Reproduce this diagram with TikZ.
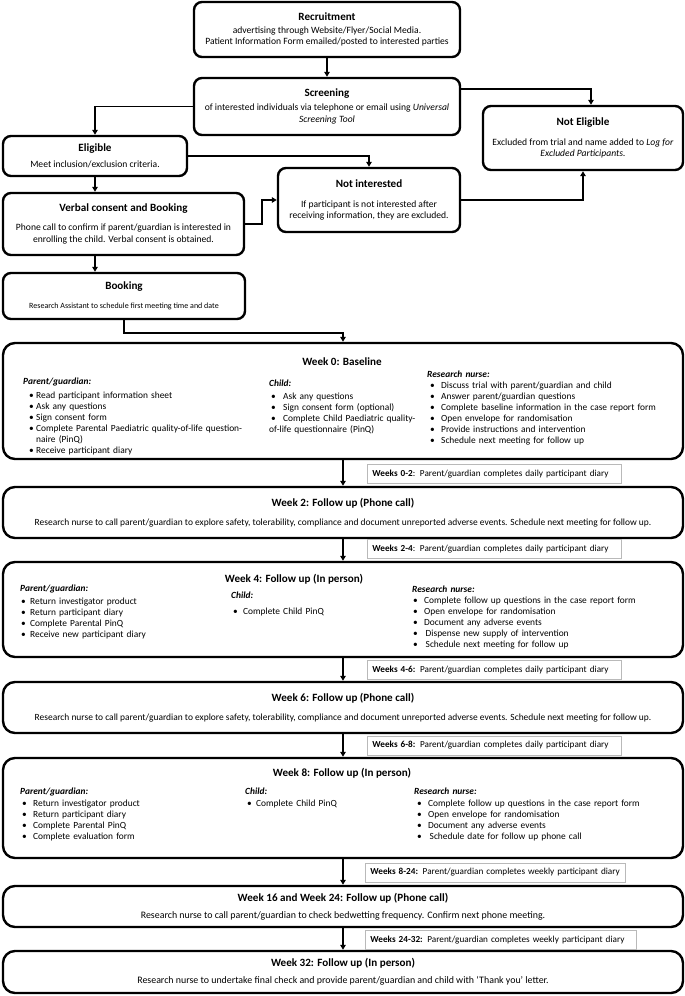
\documentclass[tikz,border=0pt]{standalone}
\usepackage{fontspec}
\setmainfont{Carlito}
\usetikzlibrary{arrows.meta}
\setlength{\parindent}{0pt}

\newcommand{\ttl}[1]{{\fontsize{11.1}{13}\selectfont\bfseries #1}}
\newlength{\bulx}
\newlength{\txtx}
\newcommand{\hd}[2][0pt]{\textbf{\textit{#2}}\par\vspace{#1}}
\newcommand{\itm}[1]{\par\hangindent=\txtx\hangafter=1\noindent\hspace*{\bulx}\makebox[\dimexpr\txtx-\bulx\relax][l]{\textbullet}#1}

\begin{document}
\begin{tikzpicture}[x=1pt,y=-1pt,
  box/.style={draw, line width=2.4pt, rounded corners=8pt, align=center, inner sep=0pt, font=\fontsize{9.6}{11.5}\selectfont},
  wbox/.style={box, rounded corners=12pt, minimum width=680pt},
  lbl/.style={draw=gray!55, line width=0.8pt, fill=white, inner xsep=5pt, inner ysep=0pt, minimum height=19pt, text width=#1, align=left, anchor=west, font=\fontsize{9.2}{11}\selectfont},
  col/.style n args={3}{anchor=north west, inner sep=0pt, text width=#1, align=left, font=\fontsize{9.4}{11}\selectfont, execute at begin node={\setlength{\bulx}{#2}\setlength{\txtx}{#3}}},
  arr/.style={line width=1.8pt, -{Triangle[length=5pt,width=5.5pt]}}]
\useasboundingbox (0,0) rectangle (685,996);

% enrolment
\node[box, minimum width=266pt, minimum height=55pt] (recruit) at (327,29.5) {\ttl{Recruitment}\\[1.5pt] advertising through Website/Flyer/Social Media.\\ Patient Information Form emailed/posted to interested parties};
\node[box, minimum width=266pt, minimum height=57pt] (screen) at (327,106.5) {\ttl{Screening}\\[2.5pt] of interested individuals via telephone or email using \textit{Universal}\\ \textit{Screening Tool}};
\node[box, minimum width=200pt, minimum height=64pt] (notelig) at (583,138) {\ttl{Not Eligible}\\[8.5pt] Excluded from trial and name added to \textit{Log for}\\ \textit{Excluded Participants.}};
\node[box, minimum width=184pt, minimum height=40pt] (elig) at (95,156) {\ttl{Eligible}\\[4.5pt] Meet inclusion/exclusion criteria.};
\node[box, minimum width=182pt, minimum height=64pt] (notint) at (369,200) {\ttl{Not interested}\\[8.5pt] If participant is not interested after\\ receiving information, they are excluded.};
\node[box, minimum width=241pt, minimum height=62pt] (verbal) at (123.5,224) {\ttl{Verbal consent and Booking}\\[7.5pt] Phone call to confirm if parent/guardian is interested in\\ enrolling the child. Verbal consent is obtained.};
\node[box, minimum width=242pt, minimum height=46pt] (booking) at (124,296) {\ttl{Booking}\\[7.5pt] {\fontsize{8}{10}\selectfont Research Assistant to schedule first meeting time and date}};

\draw[arr] (recruit) -- (screen);
\draw[arr] (screen.west) -| (elig.north);
\draw[arr] ([yshift=17.5pt]screen.east) -| ([xshift=8pt]notelig.north);
\draw[arr] (elig.east) -| (notint.north);
\draw[arr] (notint.east) -| (notelig.south);
\draw[arr] (elig.south) -- (elig.south |- verbal.north);
\draw[arr] (verbal.east) -- ++(17,0) |- (notint.west);
\draw[arr] (elig.south |- verbal.south) -- (elig.south |- booking.north);

% week 0
\node[wbox, minimum height=116pt] (week0) at (343,401) {};
\node[font=\fontsize{11.1}{13}\selectfont\bfseries] (t0) at (342,362) {Week 0: Baseline};
\node[col={250pt}{6pt}{13pt}] (par0) at (23,378) {\hd[3pt]{Parent/guardian:}
  \itm{Read participant information sheet}
  \itm{Ask any questions}
  \itm{Sign consent form}
  \itm{Complete Parental Paediatric quality-of-life question-\hfil\break naire (PinQ)}
  \itm{Receive participant diary}};
\node[col={170pt}{2pt}{14pt}] (chi0) at (269,380) {\hd[2pt]{Child:}
  \itm{Ask any questions}
  \itm{Sign consent form (optional)}
  \itm{Complete Child Paediatric quality-\hfil\break of-life questionnaire (PinQ)}};
\node[col={250pt}{3pt}{14pt}] (nur0) at (427,371) {\hd{Research nurse:}
  \itm{Discuss trial with parent/guardian and child}
  \itm{Answer parent/guardian questions}
  \itm{Complete baseline information in the case report form}
  \itm{Open envelope for randomisation}
  \itm{Provide instructions and intervention}
  \itm{Schedule next meeting for follow up}};
\draw[arr] (booking.south) -- ++(0,13) -| (week0.north);

% follow up
\node[wbox, minimum height=51pt, font=\fontsize{9.45}{11.5}\selectfont] (week2) at (343,512.5) {\ttl{Week 2: Follow up (Phone call)}\\[7.5pt] Research nurse to call parent/guardian to explore safety, tolerability, compliance and document unreported adverse events. Schedule next meeting for follow up.};

\node[wbox, minimum height=95pt] (week4) at (343,609.5) {};
\node[font=\fontsize{11.1}{13}\selectfont\bfseries] (t4) at (294,579) {Week 4: Follow up (In person)};
\node[col={200pt}{1pt}{10pt}] (par4) at (20,585) {\hd[2pt]{Parent/guardian:}
  \itm{Return investigator product}
  \itm{Return participant diary}
  \itm{Complete Parental PinQ}
  \itm{Receive new participant diary}};
\node[col={150pt}{2pt}{12pt}] (chi4) at (231,592) {\hd[5pt]{Child:}
  \itm{Complete Child PinQ}};
\node[col={260pt}{1pt}{12pt}] (nur4) at (412,586) {\hd{Research nurse:}
  \itm{Complete follow up questions in the case report form}
  \itm{Open envelope for randomisation}
  \itm{Document any adverse events}
  \itm{\hspace{1.5pt}Dispense new supply of intervention}
  \itm{\hspace{1.5pt}Schedule next meeting for follow up}};

\node[wbox, minimum height=51pt, font=\fontsize{9.45}{11.5}\selectfont] (week6) at (343,707.5) {\ttl{Week 6: Follow up (Phone call)}\\[7.5pt] Research nurse to call parent/guardian to explore safety, tolerability, compliance and document unreported adverse events. Schedule next meeting for follow up.};

\node[wbox, minimum height=100pt] (week8) at (343,808) {};
\node[font=\fontsize{11.1}{13}\selectfont\bfseries] (t8) at (342,773) {Week 8: Follow up (In person)};
\node[col={200pt}{2pt}{13pt}] (par8) at (20,788) {\hd[1pt]{Parent/guardian:}
  \itm{Return investigator product}
  \itm{Return participant diary}
  \itm{Complete Parental PinQ}
  \itm{Complete evaluation form}};
\node[col={150pt}{2pt}{11pt}] (chi8) at (245,788) {\hd[1pt]{Child:}
  \itm{Complete Child PinQ}};
\node[col={260pt}{3pt}{14pt}] (nur8) at (414,788) {\hd[1pt]{Research nurse:}
  \itm{Complete follow up questions in the case report form}
  \itm{Open envelope for randomisation}
  \itm{Document any adverse events}
  \itm{\hspace{1.5pt}Schedule date for follow up phone call}};

\node[wbox, minimum height=41pt, font=\fontsize{9.9}{11.5}\selectfont] (week16) at (343,906.5) {\ttl{Week 16 and Week 24: Follow up (Phone call)}\\[5.5pt] Research nurse to call parent/guardian to check bedwetting frequency. Confirm next phone meeting.};
\node[wbox, minimum height=42pt, font=\fontsize{9.9}{11.5}\selectfont] (week32) at (343,972) {\ttl{Week 32: Follow up (In person)}\\[5.5pt] Research nurse to undertake final check and provide parent/guardian and child with ‘Thank you’ letter.};

\foreach \a/\b in {week0/week2, week2/week4, week4/week6, week6/week8, week8/week16, week16/week32}
  \draw[arr] (\a) -- (\b);

% diary periods
\node[lbl=244pt] (w02) at (367,474) {\textbf{Weeks 0-2}: Parent/guardian completes daily participant diary};
\node[lbl=244pt] (w24) at (367,549) {\textbf{Weeks 2-4}: Parent/guardian completes daily participant diary};
\node[lbl=244pt] (w46) at (367,670) {\textbf{Weeks 4-6:} Parent/guardian completes daily participant diary};
\node[lbl=244pt] (w68) at (367,745.5) {\textbf{Weeks 6-8:} Parent/guardian completes daily participant diary};
\node[lbl=250pt] (w824) at (365,872.5) {\textbf{Weeks 8-24:} Parent/guardian completes weekly participant diary};
\node[lbl=261pt] (w2432) at (365,940) {\textbf{Weeks 24-32:} Parent/guardian completes weekly participant diary};

\end{tikzpicture}
\end{document}
